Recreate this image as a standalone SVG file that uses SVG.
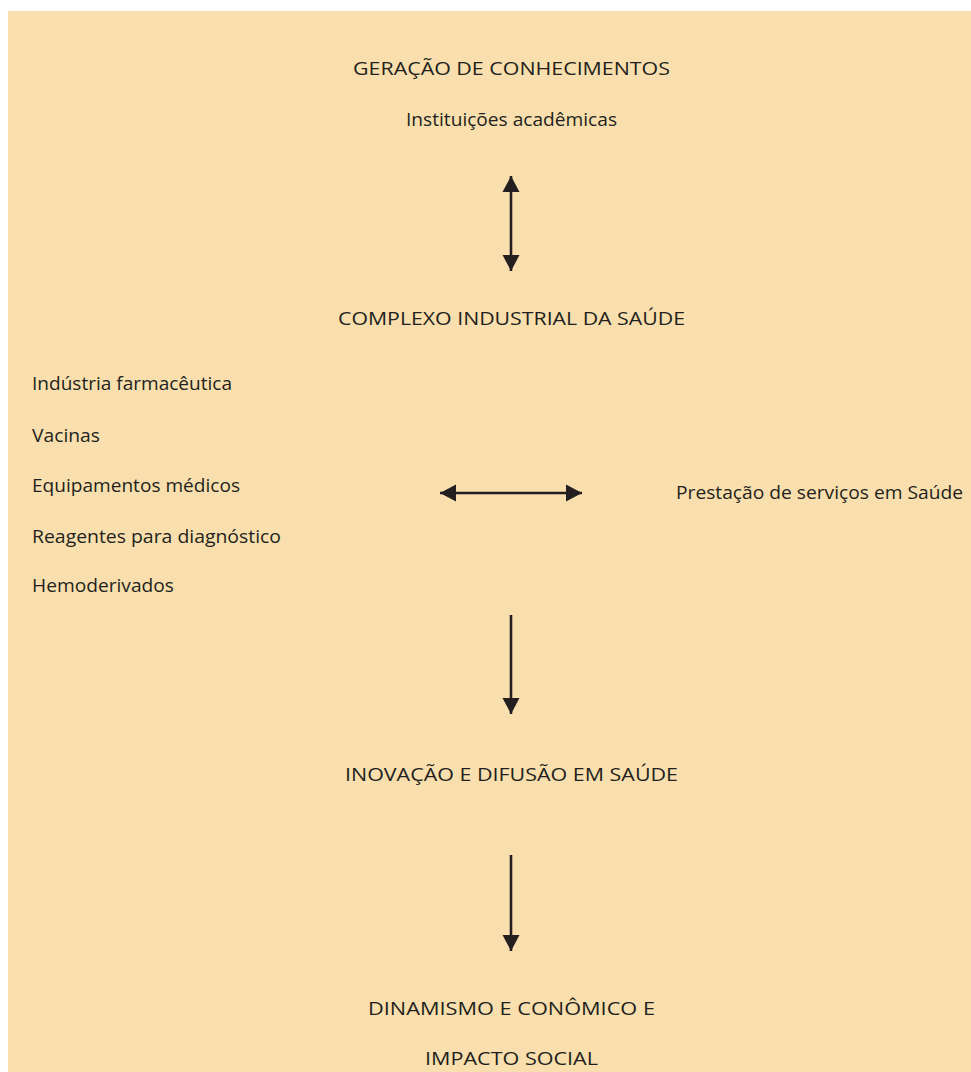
<svg xmlns="http://www.w3.org/2000/svg" width="971" height="1072" viewBox="0 0 971 1072">
<style>
text{font-family:"Open Sans","Noto Sans","Liberation Sans",sans-serif;font-size:19px;fill:#231f20}
.c{text-anchor:middle}
.ln{stroke:#231f20;stroke-width:2.6;fill:none}
</style>
<defs>
<marker id="ah" markerUnits="userSpaceOnUse" markerWidth="17" markerHeight="18" refX="16" refY="8.5" orient="auto-start-reverse" viewBox="0 0 17 17">
<path d="M0,0 L16,8.5 L0,17 z" fill="#231f20"/>
</marker>
</defs>
<rect x="8" y="11" width="963" height="1061" fill="#F9DFAD"/>
<g id="geracao">
<text class="c" x="511.5" y="75" textLength="317" lengthAdjust="spacingAndGlyphs">GERAÇÃO DE CONHECIMENTOS</text>
<text class="c" x="511.5" y="126" textLength="211" lengthAdjust="spacingAndGlyphs">Instituições acadêmicas</text>
</g>
<g id="complexo">
<text class="c" x="511.5" y="325" textLength="347" lengthAdjust="spacingAndGlyphs">COMPLEXO INDUSTRIAL DA SAÚDE</text>
</g>
<g id="industrias">
<text x="32" y="390" textLength="200" lengthAdjust="spacingAndGlyphs">Indústria farmacêutica</text>
<text x="32" y="442" textLength="68" lengthAdjust="spacingAndGlyphs">Vacinas</text>
<text x="32" y="492" textLength="208" lengthAdjust="spacingAndGlyphs">Equipamentos médicos</text>
<text x="32" y="543" textLength="249" lengthAdjust="spacingAndGlyphs">Reagentes para diagnóstico</text>
<text x="32" y="592" textLength="142" lengthAdjust="spacingAndGlyphs">Hemoderivados</text>
</g>
<g id="servicos">
<text x="676" y="499" textLength="287" lengthAdjust="spacingAndGlyphs">Prestação de serviços em Saúde</text>
</g>
<g id="inovacao">
<text class="c" x="511.5" y="781" textLength="333" lengthAdjust="spacingAndGlyphs">INOVAÇÃO E DIFUSÃO EM SAÚDE</text>
</g>
<g id="dinamismo">
<text class="c" x="511.5" y="1015" textLength="287" lengthAdjust="spacingAndGlyphs">DINAMISMO E CONÔMICO E</text>
<text class="c" x="511.5" y="1065" textLength="173" lengthAdjust="spacingAndGlyphs">IMPACTO SOCIAL</text>
</g>
<g id="connectors">
<line class="ln" x1="511" y1="176" x2="511" y2="271" marker-start="url(#ah)" marker-end="url(#ah)"/>
<line class="ln" x1="440" y1="493" x2="582" y2="493" marker-start="url(#ah)" marker-end="url(#ah)"/>
<line class="ln" x1="511" y1="615" x2="511" y2="714" marker-end="url(#ah)"/>
<line class="ln" x1="511" y1="855" x2="511" y2="951" marker-end="url(#ah)"/>
</g>
</svg>
